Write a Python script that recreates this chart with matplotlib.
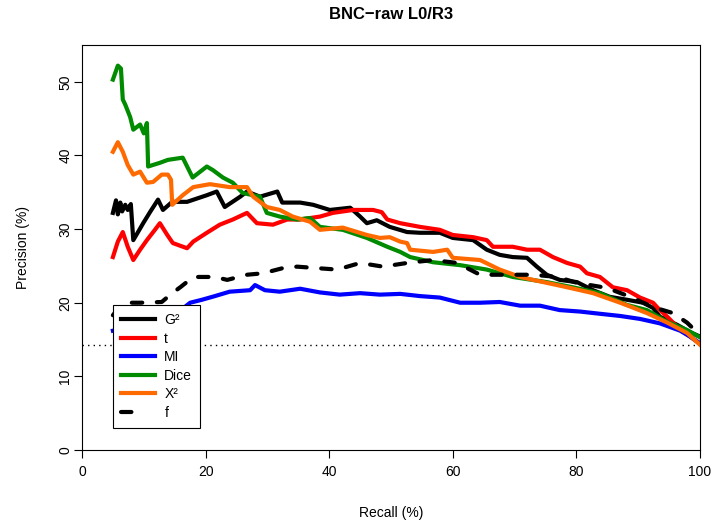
import matplotlib
matplotlib.use("Agg")
import matplotlib.pyplot as plt

plt.rcParams['font.family'] = ['Liberation Sans', 'DejaVu Sans']

# precision/recall curves (recall %, precision %)
g2_recall = [5.0, 5.5, 5.8, 6.2, 6.5, 7.0, 7.4, 7.9, 8.3, 9.0, 9.9, 11.0, 12.3, 13.1, 14.6, 17.0,
             20.2, 21.8, 23.1, 25.6, 26.7, 28.8, 31.6, 32.4, 35.3, 37.4, 40.1, 43.4, 45.0, 46.1,
             47.7, 49.8, 52.6, 54.7, 57.9, 60.0, 63.3, 65.5, 67.6, 69.7, 72.0, 73.6, 75.2, 77.3,
             80.1, 82.7, 85.4, 88.2, 90.8, 92.4, 93.5, 96.3, 98.4, 100.0]
g2_prec = [32.2, 33.9, 32.0, 33.6, 32.4, 33.3, 32.6, 33.4, 28.5, 29.5, 30.8, 32.3, 34.0, 32.6, 33.7, 33.7,
           34.6, 35.1, 33.0, 34.4, 35.1, 34.4, 35.1, 33.6, 33.6, 33.3, 32.6, 32.9, 31.7, 30.8,
           31.2, 30.3, 29.6, 29.5, 29.5, 28.8, 28.5, 27.2, 26.5, 26.2, 26.1, 24.9, 23.8, 23.1,
           22.8, 21.7, 20.8, 20.4, 20.0, 19.3, 18.1, 17.0, 16.0, 15.4]

t_recall = [5.0, 5.8, 6.6, 7.4, 8.3, 9.4, 10.5, 11.8, 12.6, 13.8, 14.7, 17.0, 18.0, 20.2, 22.3,
            24.4, 26.7, 28.3, 30.9, 33.2, 35.3, 38.5, 40.6, 43.9, 47.1, 48.5, 49.4, 51.5, 54.7,
            57.9, 60.0, 63.3, 65.5, 66.5, 69.7, 72.0, 74.1, 76.2, 78.5, 80.6, 81.7, 83.8, 85.9,
            88.2, 90.3, 92.4, 93.5, 94.7, 96.8, 98.4, 100.0]
t_prec = [26.2, 28.3, 29.6, 27.6, 25.8, 27.2, 28.5, 29.9, 30.8, 29.2, 28.1, 27.4, 28.3, 29.5, 30.6,
          31.3, 32.2, 30.8, 30.6, 31.3, 31.3, 31.7, 32.2, 32.6, 32.6, 32.3, 31.3, 30.8, 30.3,
          29.9, 29.2, 28.9, 28.5, 27.6, 27.6, 27.2, 27.2, 26.2, 25.4, 24.9, 24.0, 23.5, 22.1,
          21.7, 20.7, 20.0, 19.0, 18.1, 16.3, 15.4, 14.4]

mi_recall = [5.0, 8.0, 12.0, 16.0, 17.5, 19.4, 21.5, 23.9, 27.2, 28.0, 29.6, 32.0, 35.3, 38.5, 41.7,
             45.0, 48.2, 51.5, 54.7, 57.9, 61.2, 64.4, 67.6, 70.9, 74.1, 77.3, 80.6, 83.8, 87.1,
             90.3, 93.5, 96.8, 98.4, 100.0]
mi_prec = [16.2, 16.8, 17.6, 19.0, 20.0, 20.4, 20.9, 21.5, 21.7, 22.4, 21.7, 21.5, 21.9, 21.4, 21.1,
           21.3, 21.1, 21.2, 20.9, 20.7, 20.0, 20.0, 20.1, 19.6, 19.6, 19.0, 18.8, 18.5, 18.2,
           17.8, 17.2, 16.2, 15.4, 14.5]

dice_recall = [5.0, 5.8, 6.3, 6.6, 7.0, 7.8, 8.3, 9.4, 10.0, 10.5, 10.7, 12.6, 13.9, 16.3, 17.9,
               20.2, 21.2, 22.8, 24.4, 26.0, 28.8, 29.9, 32.0, 34.8, 36.9, 38.5, 42.2, 46.1, 49.4,
               51.5, 53.1, 56.8, 61.2, 65.5, 69.7, 75.2, 79.4, 83.8, 88.2, 91.4, 94.7, 97.9, 100.0]
dice_prec = [50.3, 52.2, 51.8, 47.6, 46.9, 45.2, 43.5, 44.2, 43.0, 44.4, 38.5, 39.0, 39.4, 39.7, 37.0,
             38.5, 38.0, 37.0, 36.3, 34.9, 34.4, 32.2, 31.7, 31.3, 31.5, 30.3, 29.9, 28.8, 27.6,
             26.9, 26.2, 25.5, 25.1, 24.5, 23.5, 22.8, 22.1, 21.3, 19.7, 19.0, 17.4, 16.3, 15.3]

x2_recall = [5.0, 5.8, 6.6, 7.4, 8.3, 9.4, 10.5, 11.5, 12.9, 13.9, 14.4, 14.6, 16.3, 18.0, 20.7,
             23.9, 26.7, 27.7, 29.9, 32.0, 34.1, 36.9, 38.5, 42.2, 46.1, 48.2, 49.8, 51.5, 52.6,
             53.1, 56.8, 59.1, 60.0, 64.4, 67.6, 70.9, 73.0, 78.5, 82.7, 87.1, 91.4, 94.7, 97.9,
             100.0]
x2_prec = [40.5, 41.8, 40.5, 38.7, 37.4, 37.8, 36.3, 36.4, 37.4, 37.4, 36.7, 33.3, 34.6, 35.7, 36.1,
           35.7, 35.7, 34.4, 33.0, 32.6, 31.7, 31.0, 29.9, 30.2, 29.2, 28.8, 28.9, 28.3, 28.1,
           27.2, 26.9, 27.2, 26.1, 25.8, 24.5, 23.5, 23.1, 22.1, 21.3, 20.0, 18.6, 17.3, 15.9,
           14.3]

f_recall = [5.0, 6.6, 9.4, 12.9, 14.6, 15.9, 18.0, 19.1, 21.5, 23.5, 26.7, 29.3, 32.5, 34.8, 38.0,
            41.3, 45.0, 48.7, 52.6, 56.8, 60.7, 64.4, 68.8, 73.0, 76.9, 80.1, 85.0, 88.7, 92.4,
            95.6, 97.9, 100.0]
f_prec = [18.3, 20.0, 20.0, 20.1, 21.3, 22.1, 23.5, 23.5, 23.5, 23.1, 23.8, 24.0, 24.7, 24.9, 24.7,
          24.5, 25.4, 24.9, 25.4, 25.8, 25.4, 23.8, 23.8, 23.8, 23.5, 22.7, 22.0, 20.8, 19.4,
          18.6, 17.3, 15.6]

baseline = 14.3

fig = plt.figure(figsize=(7.13, 5.20), dpi=100)
ax = fig.add_axes([82 / 713, 70 / 520, 618 / 713, 405 / 520])

ax.axhline(baseline, color='black', lw=1, linestyle=(0, (1, 3)))

lw = 3
ax.plot(g2_recall, g2_prec, color='black', lw=lw, label='G\u00b2', solid_joinstyle='round')
ax.plot(t_recall, t_prec, color='#ff0000', lw=lw, label='t', solid_joinstyle='round')
ax.plot(mi_recall, mi_prec, color='#0000ff', lw=lw, label='MI', solid_joinstyle='round')
ax.plot(dice_recall, dice_prec, color='#008b00', lw=lw, label='Dice', solid_joinstyle='round')
ax.plot(x2_recall, x2_prec, color='#ff6a00', lw=lw, label='X\u00b2', solid_joinstyle='round')
ax.plot(f_recall, f_prec, color='black', lw=lw, label='f', dashes=(2.5, 3.5),
        dash_capstyle='round')

ax.set_xlim(0, 100)
ax.set_ylim(0, 55)
ax.set_xticks([0, 20, 40, 60, 80, 100])
ax.set_yticks([0, 10, 20, 30, 40, 50])
ax.tick_params(axis='both', labelsize=10, length=6, width=0.8, direction='out')
ax.tick_params(axis='x', pad=5)
ax.tick_params(axis='y', pad=1)
for lab in ax.get_yticklabels():
    lab.set_rotation(90)
    lab.set_va('center')
for sp in ax.spines.values():
    sp.set_linewidth(0.8)

ax.set_xlabel('Recall (%)', fontsize=10, labelpad=19)
ax.set_ylabel('Precision (%)', fontsize=10, labelpad=20)
ax.set_title('BNC\u2212raw L0/R3', fontsize=12, fontweight='bold', pad=19)

leg = ax.legend(loc='upper left', bbox_to_anchor=(0.050, 0.358), borderaxespad=0,
                fancybox=False, edgecolor='black', framealpha=1, fontsize=10,
                handlelength=2.4, handletextpad=0.7, labelspacing=0.32, borderpad=0.6)
leg.get_frame().set_linewidth(0.8)
leg.get_lines()[-1].set_dashes((2.5, 12))

fig.savefig('out.png', dpi=100)
